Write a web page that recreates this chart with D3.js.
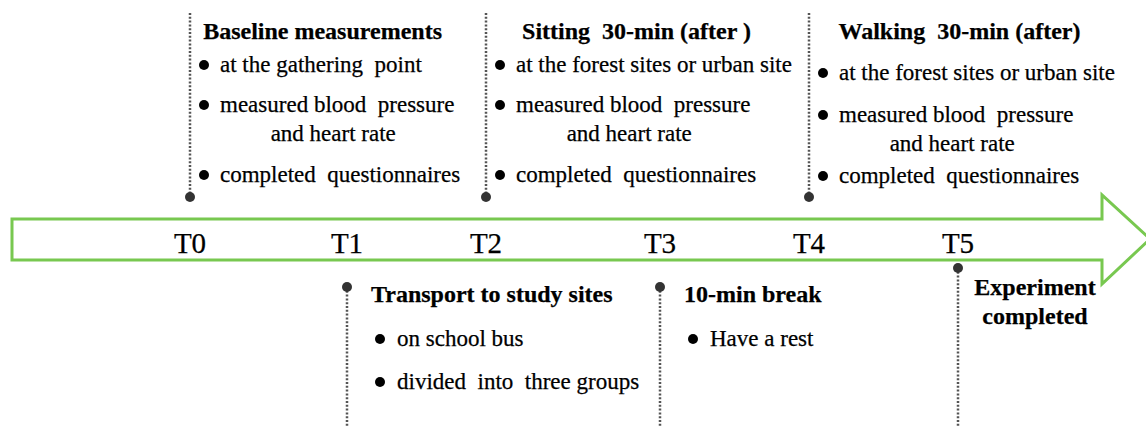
<!DOCTYPE html>
<html>
<head>
<meta charset="utf-8">
<script src="https://cdn.jsdelivr.net/npm/d3@7/dist/d3.min.js"></script>
<style>
  body { margin: 0; background: #fff; }
  svg text { font-family: "Liberation Serif", "Times New Roman", serif; white-space: pre; fill: #000; stroke: #000; stroke-width: 0.25px; }
  .title { font-weight: bold; font-size: 24px; }
  .item { font-size: 23px; }
  .tlabel { font-size: 29px; }
</style>
</head>
<body>
<div id="chart"></div>
<script>
// time points along the arrow
var timePoints = ["T0", "T1", "T2", "T3", "T4", "T5"];

// what happens at each time point (even = above arrow, odd = below)
var stepTitles = [
  "Baseline measurements",
  "Transport to study sites",
  "Sitting  30-min (after )",
  "10-min break",
  "Walking  30-min (after)",
  "Experiment\ncompleted"
];

var stepItems = [
  ["at the gathering  point", "measured blood  pressure\nand heart rate", "completed  questionnaires"],
  ["on school bus", "divided  into  three groups"],
  ["at the forest sites or urban site", "measured blood  pressure\nand heart rate", "completed  questionnaires"],
  ["Have a rest"],
  ["at the forest sites or urban site", "measured blood  pressure\nand heart rate", "completed  questionnaires"],
  []
];

var width = 1146,
    height = 426;

var svg = d3.select('#chart').append('svg')
    .attr('width', width)
    .attr('height', height);

// markers are not evenly spaced in the original, so an ordinal scale with a hand-set range
var x = d3.scaleOrdinal()
    .domain(timePoints)
    .range([190, 347, 486, 660, 809, 958]);

var arrow = {left: 12, top: 219, bottom: 260, headX: 1102, headTop: 195, headBottom: 284, tip: 1150};

svg.append('path')
    .attr('d', d3.line()([
      [arrow.left, arrow.top], [arrow.headX, arrow.top], [arrow.headX, arrow.headTop],
      [arrow.tip, (arrow.top + arrow.bottom) / 2 - 0.5], [arrow.headX, arrow.headBottom],
      [arrow.headX, arrow.bottom], [arrow.left, arrow.bottom]
    ]) + 'Z')
    .attr('fill', 'none')
    .attr('stroke', '#78c850')
    .attr('stroke-width', 3);

svg.selectAll('text.tlabel')
    .data(timePoints)
  .enter().append('text')
    .attr('class', 'tlabel')
    .attr('x', function(d) { return x(d); })
    .attr('y', 253)
    .attr('text-anchor', 'middle')
    .text(function(d) { return d; });

// dotted connectors
var steps = timePoints.map(function(t, i) {
  return {t: t, i: i, above: i % 2 == 0, title: stepTitles[i], items: stepItems[i]};
});

var markerY = function(d) {
  if (d.above) return 197;
  return d.items.length ? 287 : 268;
};

svg.selectAll('line.connector')
    .data(steps)
  .enter().append('line')
    .attr('class', 'connector')
    .attr('x1', function(d) { return x(d.t); })
    .attr('x2', function(d) { return x(d.t); })
    .attr('y1', function(d) { return d.above ? 13 : markerY(d); })
    .attr('y2', function(d) { return d.above ? markerY(d) : height; })
    .attr('stroke', '#555')
    .attr('stroke-width', 2.5)
    .attr('stroke-dasharray', '2,1.8');

svg.selectAll('circle.marker')
    .data(steps)
  .enter().append('circle')
    .attr('class', 'marker')
    .attr('cx', function(d) { return x(d.t); })
    .attr('cy', markerY)
    .attr('r', 5)
    .attr('fill', '#333');

// text blocks
steps.forEach(function(d) {
  var L = x(d.t);
  var g = svg.append('g').attr('class', 'block');

  if (!d.items.length) {
    g.selectAll('text')
        .data(d.title.split('\n'))
      .enter().append('text')
        .attr('class', 'title')
        .attr('x', L + 77)
        .attr('y', function(s, k) { return 295 + k * 29; })
        .attr('text-anchor', 'middle')
        .text(function(s) { return s; });
    return;
  }

  var bulletX = d.above ? L + 14 : L + 33,
      textX = d.above ? L + 30 : L + 50,
      ys = d.above ? (d.i == 4 ? [80, 122, 183] : [72, 112, 182]) : [346, 389],
      right = textX;

  d.items.forEach(function(item, k) {
    var lines = item.split('\n');
    g.append('circle')
        .attr('cx', bulletX)
        .attr('cy', ys[k] - 7)
        .attr('r', 5)
        .attr('fill', '#000');
    var first = g.append('text')
        .attr('class', 'item')
        .attr('x', textX)
        .attr('y', ys[k])
        .text(lines[0]);
    var w = first.node().getComputedTextLength();
    right = Math.max(right, textX + w);
    if (lines[1]) {
      g.append('text')
          .attr('class', 'item')
          .attr('x', textX + w / 2 - 4)
          .attr('y', ys[k] + 29)
          .attr('text-anchor', 'middle')
          .text(lines[1]);
    }
  });

  if (d.above) {
    g.append('text')
        .attr('class', 'title')
        .attr('x', (bulletX - 5 + right) / 2 - 7)
        .attr('y', 39)
        .attr('text-anchor', 'middle')
        .text(d.title);
  } else {
    g.append('text')
        .attr('class', 'title')
        .attr('x', L + 24)
        .attr('y', 302)
        .text(d.title);
  }
});
</script>
</body>
</html>
